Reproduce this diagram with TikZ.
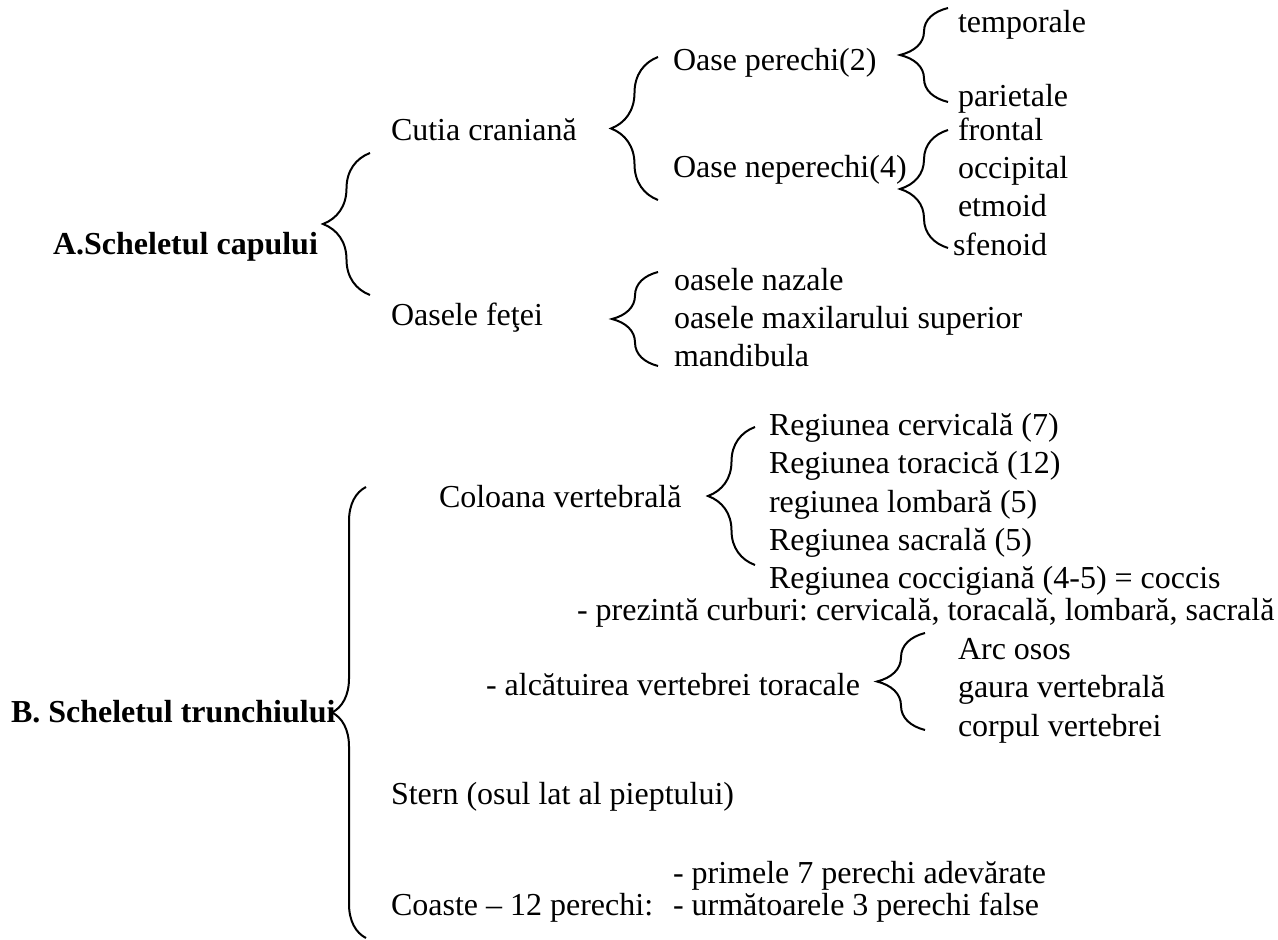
\documentclass[tikz,border=0pt]{standalone}
\usepackage{fontspec}
\setmainfont{Liberation Serif}
\frenchspacing
\usetikzlibrary{positioning,decorations.pathreplacing}

\begin{document}
\begin{tikzpicture}[x=0.5pt, y=-0.5pt, node distance=0pt, line width=1pt]

	% Styles
	\tikzstyle{eticheta} = [anchor=west, inner sep=0pt, minimum height=18.15pt, text height=10.8pt, text depth=3.4pt, font=\fontsize{16}{18}\selectfont];
	\tikzstyle{titlu} = [eticheta, font=\fontsize{16}{18}\selectfont\bfseries];
	\tikzstyle{acolada} = [decorate, decoration={brace, amplitude=23.5pt}];

	\useasboundingbox (0,0) rectangle (1278,940);

	% Nodes - A
	\node[titlu] (capul) at (52,247) {A.Scheletul capului};
	\node[eticheta] (cutia) at (390,133) {Cutia craniană};
	\node[eticheta] (fata) at (390,318) {Oasele feţei};
	\node[eticheta] (perechi) at (672,63) {Oase perechi(2)};
	\node[eticheta] (neperechi) at (672,170) {Oase neperechi(4)};

	\node[eticheta] (temporale) at (957,25) {temporale};
	\node[eticheta, below=18.15pt of temporale.south west, anchor=north west] (parietale) {parietale};

	\node[eticheta] (frontal) at (957,133) {frontal};
	\node[eticheta, below=of frontal.south west, anchor=north west] (occipital) {occipital};
	\node[eticheta, below=of occipital.south west, anchor=north west] (etmoid) {etmoid};
	\node[eticheta, below=of etmoid.south west, anchor=north west, xshift=-2.5pt] (sfenoid) {sfenoid};

	\node[eticheta] (nazale) at (673,283) {oasele nazale};
	\node[eticheta, below=of nazale.south west, anchor=north west] (maxilar) {oasele maxilarului superior};
	\node[eticheta, below=of maxilar.south west, anchor=north west] (mandibula) {mandibula};

	% Nodes - B
	\node[titlu] (trunchi) at (10,715) {B. Scheletul trunchiului};
	\node[eticheta] (coloana) at (438,500) {Coloana vertebrală};

	\node[eticheta] (cervicala) at (768,428) {Regiunea cervicală (7)};
	\node[eticheta, below=of cervicala.south west, anchor=north west] (toracica) {Regiunea toracică (12)};
	\node[eticheta, below=of toracica.south west, anchor=north west] (lombara) {regiunea lombară (5)};
	\node[eticheta, below=of lombara.south west, anchor=north west] (sacrala) {Regiunea sacrală (5)};
	\node[eticheta, below=of sacrala.south west, anchor=north west] (coccis) {Regiunea coccigiană (4-5) = coccis};

	\node[eticheta] (curburi) at (576,613) {- prezintă curburi: cervicală, toracală, lombară, sacrală};
	\node[eticheta] (alcatuire) at (485,688) {- alcătuirea vertebrei toracale};

	\node[eticheta] (arc) at (957,652) {Arc osos};
	\node[eticheta, below=of arc.south west, anchor=north west] (gaura) {gaura vertebrală};
	\node[eticheta, below=of gaura.south west, anchor=north west] (corpul) {corpul vertebrei};

	\node[eticheta] (stern) at (390,797) {Stern (osul lat al pieptului)};
	\node[eticheta] (coaste) at (390,908) {Coaste – 12 perechi:};
	\node[eticheta] (adevarate) at (672,876) {- primele 7 perechi adevărate};
	\node[eticheta] (false) at (672,908) {- următoarele 3 perechi false};

	% Brace ends
	\coordinate (capulN) at (370,153);
	\coordinate (capulS) at (370,295);
	\coordinate (cutiaN) at (658,57);
	\coordinate (cutiaS) at (658,200);
	\coordinate (perechiN) at (948,8);
	\coordinate (perechiS) at (948,102);
	\coordinate (neperechiN) at (948,130);
	\coordinate (neperechiS) at (948,248);
	\coordinate (fataN) at (658,272);
	\coordinate (fataS) at (658,366);
	\coordinate (trunchiN) at (366,487);
	\coordinate (trunchiS) at (366,938);
	\coordinate (coloanaN) at (755,427);
	\coordinate (coloanaS) at (755,565);
	\coordinate (alcatuireN) at (925,633);
	\coordinate (alcatuireS) at (925,730);

	% Braces
	\draw[acolada] (capulS) -- (capulN);
	\draw[acolada] (cutiaS) -- (cutiaN);
	\draw[acolada, decoration={amplitude=24pt}] (perechiS) -- (perechiN);
	\draw[acolada, decoration={amplitude=24pt}] (neperechiS) -- (neperechiN);
	\draw[acolada, decoration={amplitude=23pt}] (fataS) -- (fataN);
	\draw[acolada, decoration={amplitude=17pt}] (trunchiS) -- (trunchiN);
	\draw[acolada] (coloanaS) -- (coloanaN);
	\draw[acolada, decoration={amplitude=24pt}] (alcatuireS) -- (alcatuireN);

\end{tikzpicture}
\end{document}
